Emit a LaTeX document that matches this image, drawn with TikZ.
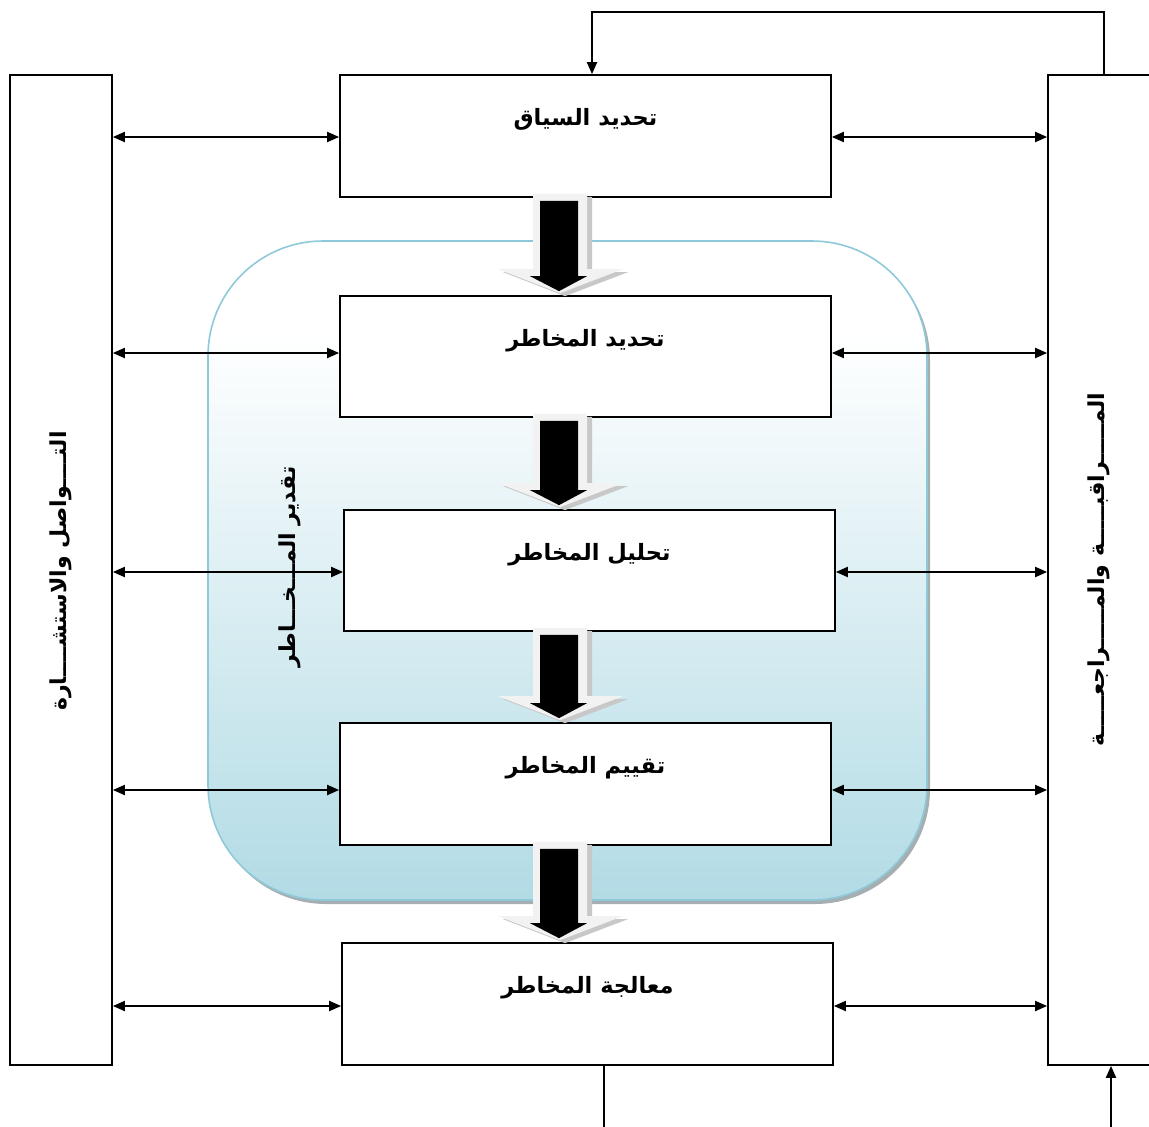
\documentclass[tikz,border=0pt]{standalone}
\usepackage{fontspec}
\newfontfamily\arabicfont[Script=Arabic]{DejaVu Sans}
\TeXXeTstate=1
\usetikzlibrary{arrows.meta,calc,shadows}
\definecolor{regionbot}{RGB}{178,219,229}
\definecolor{regionedge}{RGB}{143,201,217}
\definecolor{arrowshade}{RGB}{200,200,200}
\definecolor{arrowbody}{RGB}{242,242,242}
\pgfdeclareverticalshading{regionfill}{100bp}{color(0bp)=(regionbot); color(25bp)=(regionbot); color(68bp)=(white); color(100bp)=(white)}
\tikzset{
  tip/.style={-{Triangle[length=12pt,width=10pt]}},
  bitip/.style={{Triangle[length=12pt,width=10pt]}-{Triangle[length=12pt,width=10pt]}},
  stage/.style={draw, line width=1.7pt, fill=white, minimum width=491pt, inner sep=0pt,
    text height=50pt, text depth=71pt, font=\arabicfont\bfseries\fontsize{22.5}{26}\selectfont},
  panel/.style={draw, line width=1.7pt, fill=white, minimum height=990pt, inner sep=0pt},
  sidetext/.style={rotate=90, font=\arabicfont\bfseries\fontsize{22}{26}\selectfont},
  link/.style={line width=2pt},
}
% block arrow from the bottom of one stage to the top of the next
\newcommand\flowarrow[2]{%
  \coordinate (ft) at (#1.south -| ac);
  \coordinate (fb) at (#2.north -| ac);
  \fill[arrowshade] ($(ft)+(-22,-1)$) -- ($(ft)+(32,-1)$) -- ($(fb)+(32,-23)$) -- ($(fb)+(68,-23)$)
    -- ($(fb)+(5,1)$) -- ($(fb)+(-57,-23)$) -- ($(fb)+(-22,-23)$) -- cycle;
  \fill[arrowbody] ($(ft)+(-27,-4)$) -- ($(ft)+(27,-4)$) -- ($(fb)+(27,-26)$) -- ($(fb)+(63,-26)$)
    -- ($(fb)+(0,-2)$) -- ($(fb)+(-62,-26)$) -- ($(fb)+(-27,-26)$) -- cycle;
  \fill[black] ($(ft)+(-20,3)$) -- ($(ft)+(18,3)$) -- ($(fb)+(18,-19)$) -- ($(fb)+(27,-19)$)
    -- ($(fb)+(-1,-4)$) -- ($(fb)+(-30,-19)$) -- ($(fb)+(-20,-19)$) -- cycle;
}
\begin{document}
\begin{tikzpicture}[x=1pt,y=-1pt]
\useasboundingbox (0,0) rectangle (1149,1127);
\coordinate (ac) at (560,0);

% risk assessment region
\path[shading=regionfill, draw=regionedge, line width=1.6pt, rounded corners=115pt,
  drop shadow={shadow xshift=3pt, shadow yshift=-4pt, fill=gray!70!regionbot, opacity=0.8}]
  (208,241) rectangle (927,900);
\node[sidetext] (assess) at (290,567) {\beginR تقدير المـــخـــاطر\endR};

% side panels
\node[panel, minimum width=102pt] (L) at (61,570) {};
\node[panel, minimum width=112pt] (R) at (1104,570) {};
\node[sidetext] (Ltext) at (61,571) {\beginR التــــواصل والاستشــــارة\endR};
\node[sidetext] (Rtext) at (1099,570) {\beginR المـــــراقبـــــة والمـــــراجعـــــة\endR};

% process stages
\node[stage, minimum height=122pt] (b1) at (585.5,136) {\beginR تحديد السياق\endR};
\node[stage, minimum height=121pt] (b2) at (585.5,356.5) {\beginR تحديد المخاطر\endR};
\node[stage, minimum height=121pt] (b3) at (589.5,570.5) {\beginR تحليل المخاطر\endR};
\node[stage, minimum height=122pt] (b4) at (585.5,784) {\beginR تقييم المخاطر\endR};
\node[stage, minimum height=122pt] (b5) at (587.5,1004) {\beginR معالجة المخاطر\endR};

\flowarrow{b1}{b2}
\flowarrow{b2}{b3}
\flowarrow{b3}{b4}
\flowarrow{b4}{b5}

% exchanges with the side panels
\foreach \b/\d in {b1/1,b2/-3.5,b3/1.5,b4/6,b5/2}{
  \coordinate (w) at ($(\b.west)+(0,\d)$);
  \coordinate (e) at ($(\b.east)+(0,\d)$);
  \draw[link, bitip] (L.east |- w) -- (w);
  \draw[link, bitip] (e) -- (R.west |- e);
}

% feedback loops
\coordinate (topc) at (592,12);
\draw[link, tip] (R.north) |- (topc) -- (topc |- b1.north);
\coordinate (bl) at (604,1135);
\coordinate (br) at (1111,1135);
\draw[link] (bl |- b5.south) -- (bl);
\draw[link, tip] (br) -- (br |- R.south);
\end{tikzpicture}
\end{document}
